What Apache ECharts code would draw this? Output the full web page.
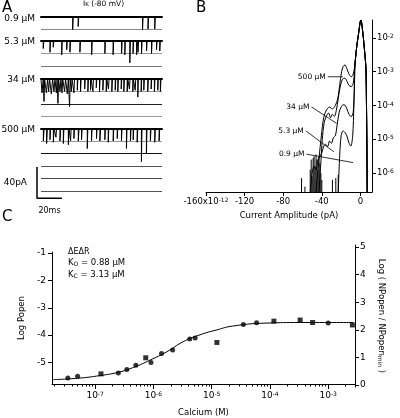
<!DOCTYPE html>
<html><head><meta charset="utf-8">
<script src="https://cdn.jsdelivr.net/npm/echarts@6/dist/echarts.min.js"></script>
<style>html,body{margin:0;padding:0;background:#fff}#c{width:400px;height:418px}</style>
</head><body><div id="c"></div>
<script>
// ---------- Panel A: single-channel openings [time ms, depth (unitary levels), duration ms] ----------
const traceLabels = ['0.9 µM', '5.3 µM', '34 µM', '500 µM'];
const traceLevels = [1, 2, 3, 5];
const traceDurationMs = 97;
const events09 = [[5,0.15],[12,0.12],[25.4,1.05],[29.8,0.8],[40,0.15],[52,0.12],[60,0.15],[70,0.12],[81.4,1.05],[85.8,1.0],[91.2,1.0],[95,0.15]];
const events53 = [[1.8,0.6],[7.2,0.9],[9.8,0.5],[16.6,1.1],[20.6,0.7],[23.2,0.9],[31.2,0.9],[40.6,1.1],[51.2,1.0],[57.8,1.1],[64.6,1.0],[67.2,1.1],[71.2,1.75],[73.8,1.0],[76.6,1.1],[77.8,0.9],[80.6,1.0],[84.6,0.8],[88.6,1.0],[92.6,0.7],[95.2,0.8]];
const events34 = [[0.8,1.1,1.0],[2.4,1.8,0.5],[4.3,1.1,1.0],[6.1,1.0,0.8],[8.3,1.2,1.0],[10.4,1.0,0.8],[12.3,1.1,0.6],[13.6,1.95,0.5],[15.2,1.0,0.8],[16.8,1.1,0.6],[18.9,1.0,0.8],[21.1,1.2,0.8],[22.9,2.2,0.5],[24.3,1.0,0.6],[26.4,1.1,0.5],[29.1,0.9],[31.7,1.0],[35.0,0.8],[37.6,1.0],[39.7,0.9],[41.6,1.0],[44.3,0.7],[46.9,1.0],[49.6,0.9],[52.3,1.0],[54.1,0.8],[56.8,1.0],[59.5,0.9],[61.6,1.0],[64.3,0.8],[66.4,1.0],[69.1,1.0],[70.9,0.8],[73.6,1.0],[75.5,0.9],[77.6,1.45],[80.3,1.0],[82.4,0.9],[85.6,1.0],[88.3,0.8],[90.9,1.0],[93.6,0.9],[95.7,1.0]];
const events500 = [[1.9,1.0,0.6],[4.5,1.2,0.6],[7.2,0.9,0.6],[9.9,1.1,0.6],[12.0,0.7],[15.2,1.0,0.6],[17.9,1.2],[21.9,1.3,0.6],[23.7,1.0],[26.4,0.8],[29.9,1.0,0.6],[32.5,0.9],[37.1,1.6],[40.5,1.0],[44.5,0.8],[47.2,1.0,0.6],[51.2,0.9],[53.9,1.1],[57.9,1.0],[61.1,0.8],[64.5,1.0],[68.5,1.6],[71.7,1.0],[73.9,0.9],[77.1,1.1],[80.5,2.65],[84.5,2.0],[87.7,1.0],[91.2,1.1],[94.7,1.0]];
const scaleBar = { pA: 40, ms: 20 };

// ---------- Panel B: amplitude histograms [current pA, log10 probability] ----------
const bMainLeft = [[-4.0,-2.3],[-2.3,-1.95],[0.5,-1.47]];
const bMainRight = [[2.5,-1.85],[4.5,-2.45],[5.7,-2.9],[6.3,-4.0],[6.8,-5.5],[7.0,-6.56]];
const hist500 = [[-46,-6.56],[-43,-5.6],[-40.5,-4.9],[-38,-4.35],[-35,-4.12],[-32,-4.05],[-29,-4.1],[-26,-4.0],[-23.5,-3.8],[-21.5,-3.4],[-19.5,-3.0],[-17.8,-2.84],[-16.1,-2.8],[-14.2,-2.9],[-12,-3.06],[-9.5,-3.15],[-7.5,-3.07],[-6.2,-2.9],[-5.7,-2.8]];
const hist34 = [[-43,-6.56],[-41,-5.7],[-39.5,-5.0],[-37.5,-4.5],[-35,-4.3],[-33,-4.22],[-31,-4.36],[-29,-4.26],[-27,-4.32],[-25,-4.15],[-23,-3.8],[-21,-3.45],[-18.5,-3.22],[-16.1,-3.19],[-14,-3.28],[-12,-3.4],[-9.5,-3.44],[-7.5,-3.35],[-6.2,-3.0],[-5.7,-2.8]];
const hist53 = [[-52,-6.56],[-50,-6.0],[-48,-5.8],[-46,-5.9],[-44,-5.6],[-42,-5.5],[-40,-5.4],[-38,-5.2],[-36,-5.15],[-34,-5.22],[-32,-5.05],[-30,-5.12],[-28,-4.95],[-26,-4.9],[-24,-4.55],[-22,-4.2],[-20,-4.05],[-18,-3.98],[-16,-3.99],[-14,-4.1],[-12,-4.25],[-9.5,-4.33],[-7.5,-4.2],[-6.5,-3.7],[-5.9,-3.1],[-5.7,-2.8]];
const hist09 = [[-23,-6.56],[-21.5,-5.5],[-20,-4.9],[-18,-4.75],[-16,-4.8],[-14,-4.9],[-12,-5.1],[-10,-5.2],[-8,-4.9],[-6.8,-4.0],[-6,-3.0],[-5.7,-2.8]];
const histBins = [[-61,-6.15],[-57.5,-6.4],[-52,-5.9],[-51,-5.6],[-50,-6.1],[-49,-5.55],[-48,-5.5],[-47,-5.8],[-46,-5.45],[-45,-5.6],[-44,-5.9],[-43,-5.5],[-42,-5.7],[-41,-6.0],[-40,-6.2],[-29,-6.2],[-25.5,-6.15],[-23,-6.05]];
const bLabels = ['500 µM','34 µM','5.3 µM','0.9 µM'];
const bPointers = [[[-33.8,-3.15],[-18.2,-3.15]],[[-50.7,-4.04],[-24.7,-4.53]],[[-56.6,-4.75],[-27.5,-5.37]],[[-55.9,-5.44],[-7.5,-5.69]]];
const bXTicks = [-160,-120,-80,-40,0];
const bYTicks = [-6,-5,-4,-3,-2];

// ---------- Panel C: Log Popen vs calcium ----------
const caCircles = [3.4e-8,5.0e-8,2.5e-7,3.5e-7,5.0e-7,9.1e-7,1.38e-6,2.14e-6,4.2e-6,5.2e-6,3.5e-5,5.9e-5,1.0e-3];
const popCircles = [-5.57,-5.51,-5.39,-5.26,-5.10,-5.00,-4.67,-4.55,-4.14,-4.11,-3.61,-3.55,-3.56];
const caSquares = [1.26e-7,7.4e-7,1.23e-5,1.17e-4,3.3e-4,5.4e-4,2.6e-3];
const popSquares = [-5.42,-4.83,-4.27,-3.49,-3.45,-3.54,-3.63];
const caFit = [1.9e-8,5.0e-8,1.23e-7,2.5e-7,4.6e-7,8.7e-7,1.7e-6,3.2e-6,6.3e-6,1.23e-5,2.3e-5,8.9e-5,3.3e-4,2.7e-3];
const popFit = [-5.63,-5.58,-5.48,-5.36,-5.18,-4.92,-4.61,-4.25,-3.99,-3.81,-3.67,-3.56,-3.54,-3.54];
const cXTickExps = [-7,-6,-5,-4,-3];
const cLeftTicks = [-5,-4,-3,-2,-1];
const cRightTicks = [0,1,2,3,4,5];

// ---------- build ----------
const FONT = 'DejaVu Sans';
const lg = v => Math.log10(v);
const supRich = { sup: { fontSize: 6, verticalAlign: 'top', fontFamily: FONT, color: '#000' } };

function traceData(events) {
  const ev = events.slice().sort((a, b) => a[0] - b[0]);
  const pts = [[0, 0]];
  for (const e of ev) { const t = e[0], d = e[1], w = e[2] || 0.45; pts.push([t, 0], [t, -d], [t + w, -d], [t + w, 0]); }
  pts.push([traceDurationMs, 0]);
  return pts;
}
const allEvents = [events09, events53, events34, events500];
const traceTops = [16.5, 41, 79, 128.5];
const levelPx = 12.5;
const splitColors = [['#888', '#000'], ['#777', '#999', '#000'], ['#999', '#222', '#999', '#000'], ['#555', '#444', '#555', '#111', '#999', '#000']];

const grid = [], xAxis = [], yAxis = [], series = [];
traceLevels.forEach((n, i) => {
  grid.push({ left: 41, width: 121, top: traceTops[i], height: n * levelPx });
  xAxis.push({ gridIndex: i, type: 'value', min: 0, max: traceDurationMs, position: 'top',
    axisLine: { show: true, onZero: false, lineStyle: { color: '#000', width: 2 } },
    axisTick: { show: false }, axisLabel: { show: false }, splitLine: { show: false } });
  yAxis.push({ gridIndex: i, type: 'value', min: -n, max: 0, interval: 1,
    axisLine: { show: false }, axisTick: { show: false }, axisLabel: { show: false },
    splitLine: { show: true, lineStyle: { color: splitColors[i], width: 1 } } });
  series.push({ type: 'line', xAxisIndex: i, yAxisIndex: i, data: traceData(allEvents[i]), symbol: 'none',
    clip: false, lineStyle: { color: '#000', width: 1 }, silent: true });
});
// scale bar grid (4)
grid.push({ left: 37, top: 167, width: scaleBar.ms * 121 / traceDurationMs, height: scaleBar.pA * levelPx / 16 });
xAxis.push({ gridIndex: 4, type: 'value', min: 0, max: scaleBar.ms, axisLine: { show: false }, axisTick: { show: false },
  axisLabel: { show: false }, splitLine: { show: false }, name: scaleBar.ms + 'ms', nameLocation: 'middle', nameGap: 9,
  nameTextStyle: { fontFamily: FONT, fontSize: 8, color: '#000' } });
yAxis.push({ gridIndex: 4, type: 'value', min: 0, max: scaleBar.pA, axisLine: { show: false }, axisTick: { show: false },
  axisLabel: { show: false }, splitLine: { show: false }, name: scaleBar.pA + 'pA', nameLocation: 'middle', nameGap: 10, nameRotate: 0,
  nameTextStyle: { fontFamily: FONT, fontSize: 9, color: '#000', align: 'right' } });
series.push({ type: 'line', xAxisIndex: 4, yAxisIndex: 4, data: [[0, scaleBar.pA], [0, 0], [scaleBar.ms, 0]], symbol: 'none',
  clip: false, lineStyle: { color: '#000', width: 1.5 } });

// Panel B grid (5)
grid.push({ left: 206, right: 28, top: 20, bottom: 226 });
xAxis.push({ gridIndex: 5, type: 'value', min: -160, max: 12,
  axisLine: { onZero: false, lineStyle: { color: '#000', width: 1 } },
  axisTick: { customValues: bXTicks, length: 4, lineStyle: { color: '#000' } },
  axisLabel: { customValues: bXTicks, margin: 5, fontFamily: FONT, fontSize: 8.5, color: '#000', rich: supRich,
    formatter: v => v === -160 ? '-160x10{sup|-12}' : String(v) },
  splitLine: { show: false }, name: 'Current Amplitude (pA)', nameLocation: 'middle', nameGap: 19,
  nameTextStyle: { fontFamily: FONT, fontSize: 8.5, color: '#000' } });
yAxis.push({ gridIndex: 5, type: 'value', position: 'right', min: -6.56, max: -1.47,
  axisLine: { onZero: false, lineStyle: { color: '#000', width: 1 } },
  axisTick: { customValues: bYTicks, length: 4, lineStyle: { color: '#000' } },
  axisLabel: { customValues: bYTicks, margin: 5, fontFamily: FONT, fontSize: 8.5, color: '#000', rich: supRich,
    formatter: v => '10{sup|' + v + '}' },
  splitLine: { show: false } });
const bLine = d => ({ type: 'line', xAxisIndex: 5, yAxisIndex: 5, data: d, symbol: 'none', smooth: 0.3,
  lineStyle: { color: '#000', width: 1 }, silent: true });
[hist500, hist34, hist53, hist09].forEach(h => series.push(bLine(h.concat(bMainLeft, bMainRight))));
series.push({ type: 'custom', xAxisIndex: 5, yAxisIndex: 5, data: histBins, silent: true,
  renderItem: (params, api) => {
    const top = api.coord([api.value(0), api.value(1)]);
    const bot = api.coord([api.value(0), -6.56]);
    return { type: 'line', shape: { x1: top[0], y1: top[1], x2: bot[0], y2: bot[1] }, style: { stroke: '#000', lineWidth: 1 } };
  } });
bPointers.forEach((p, i) => series.push({ type: 'line', xAxisIndex: 5, yAxisIndex: 5, silent: true,
  data: [{ value: p[0], label: { show: true, position: 'left', distance: 2, formatter: bLabels[i], fontFamily: FONT, fontSize: 7.5, color: '#000' } }, p[1]],
  symbol: 'circle', symbolSize: 0.01, showSymbol: true, lineStyle: { color: '#000', width: 0.8 } }));

// Panel C grids (6: data+left axis, 7: right axis)
grid.push({ left: 52, right: 45, top: 252, bottom: 31 });
grid.push({ left: 52, right: 45, top: 245, bottom: 31 });
const cMin = -7.74, cMax = -2.54;
const minorVals = [];
for (let e = -8; e <= -3; e++) for (let k = 2; k <= 9; k++) { const v = e + Math.log10(k); if (v > cMin && v < cMax) minorVals.push(v); }
xAxis.push({ gridIndex: 6, type: 'value', position: 'bottom', min: cMin, max: cMax,
  axisLine: { onZero: false, lineStyle: { color: '#000', width: 1 } },
  axisTick: { customValues: cXTickExps, length: 5, lineStyle: { color: '#000' } },
  axisLabel: { customValues: cXTickExps, margin: 7, fontFamily: FONT, fontSize: 9, color: '#000', rich: supRich,
    formatter: v => '10{sup|' + Math.round(v) + '}' },
  splitLine: { show: false }, name: 'Calcium (M)', nameLocation: 'middle', nameGap: 24,
  nameTextStyle: { fontFamily: FONT, fontSize: 8.5, color: '#000' } });
xAxis.push({ gridIndex: 6, type: 'value', position: 'bottom', offset: 0, min: cMin, max: cMax,
  axisLine: { show: false, onZero: false }, axisTick: { customValues: minorVals, length: 2.5, lineStyle: { color: '#000' } },
  axisLabel: { show: false }, splitLine: { show: false } });
xAxis.push({ gridIndex: 7, type: 'value', min: 0, max: 1, show: false });
yAxis.push({ gridIndex: 6, type: 'value', min: -5.79, max: -0.96,
  axisLine: { show: true, onZero: false, lineStyle: { color: '#000', width: 1 } },
  axisTick: { customValues: cLeftTicks, length: 4, lineStyle: { color: '#000' } },
  axisLabel: { customValues: cLeftTicks, margin: 6, fontFamily: FONT, fontSize: 9, color: '#000' },
  splitLine: { show: false }, name: 'Log Popen', nameLocation: 'middle', nameGap: 22,
  nameTextStyle: { fontFamily: FONT, fontSize: 8.5, color: '#000' } });
yAxis.push({ gridIndex: 7, type: 'value', position: 'right', min: -0.072, max: 5.072,
  axisLine: { show: true, onZero: false, lineStyle: { color: '#000', width: 1 } },
  axisTick: { customValues: cRightTicks, length: 4, lineStyle: { color: '#000' } },
  axisLabel: { customValues: cRightTicks, margin: 5, fontFamily: FONT, fontSize: 9, color: '#000' },
  splitLine: { show: false }, name: 'Log ( NPopen / NPopen{sub|min} )', nameLocation: 'middle', nameGap: 22, nameRotate: -90,
  nameTextStyle: { fontFamily: FONT, fontSize: 8.5, color: '#000', rich: { sub: { fontSize: 6, verticalAlign: 'bottom', fontFamily: FONT } } } });
series.push({ type: 'line', xAxisIndex: 6, yAxisIndex: 6, data: caFit.map((c, i) => [lg(c), popFit[i]]), symbol: 'none', smooth: 0.5,
  lineStyle: { color: '#000', width: 1 }, silent: true });
series.push({ type: 'scatter', xAxisIndex: 6, yAxisIndex: 6, data: caCircles.map((c, i) => [lg(c), popCircles[i]]), symbol: 'circle', symbolSize: 5,
  itemStyle: { color: '#000' }, silent: true });
series.push({ type: 'scatter', xAxisIndex: 6, yAxisIndex: 6, data: caSquares.map((c, i) => [lg(c), popSquares[i]]), symbol: 'rect', symbolSize: 5,
  itemStyle: { color: '#000' }, silent: true });

const txt = (x, y, text, size, extra) => Object.assign({ type: 'text', x: x, y: y, silent: true,
  style: Object.assign({ text: text, fontFamily: FONT, fontSize: size, fill: '#000' }, extra || {}) });
const graphic = [
  txt(2, 1, 'A', 15), txt(196, 1, 'B', 15), txt(2, 210, 'C', 15),
  txt(83, 0, 'I{sub|K} (-80 mV)', 7.5, { rich: { sub: { fontSize: 5.5, verticalAlign: 'bottom', fontFamily: FONT } } }),
];
const aLabelY = [19, 42, 80, 130];
traceLabels.forEach((t, i) => graphic.push(txt(35, aLabelY[i], t, 9, { align: 'right', verticalAlign: 'middle' })));
graphic.push(txt(68, 248, 'ΔEΔR', 8));
graphic.push(txt(68, 258, 'K{sub|O} = 0.88 µM', 8.5, { rich: { sub: { fontSize: 6, verticalAlign: 'bottom', fontFamily: FONT } } }));
graphic.push(txt(68, 270, 'K{sub|C} = 3.13 µM', 8.5, { rich: { sub: { fontSize: 6, verticalAlign: 'bottom', fontFamily: FONT } } }));

const chart = echarts.init(document.getElementById('c'));
chart.setOption({ animation: false, backgroundColor: '#fff', grid, xAxis, yAxis, series, graphic });
</script></body></html>
